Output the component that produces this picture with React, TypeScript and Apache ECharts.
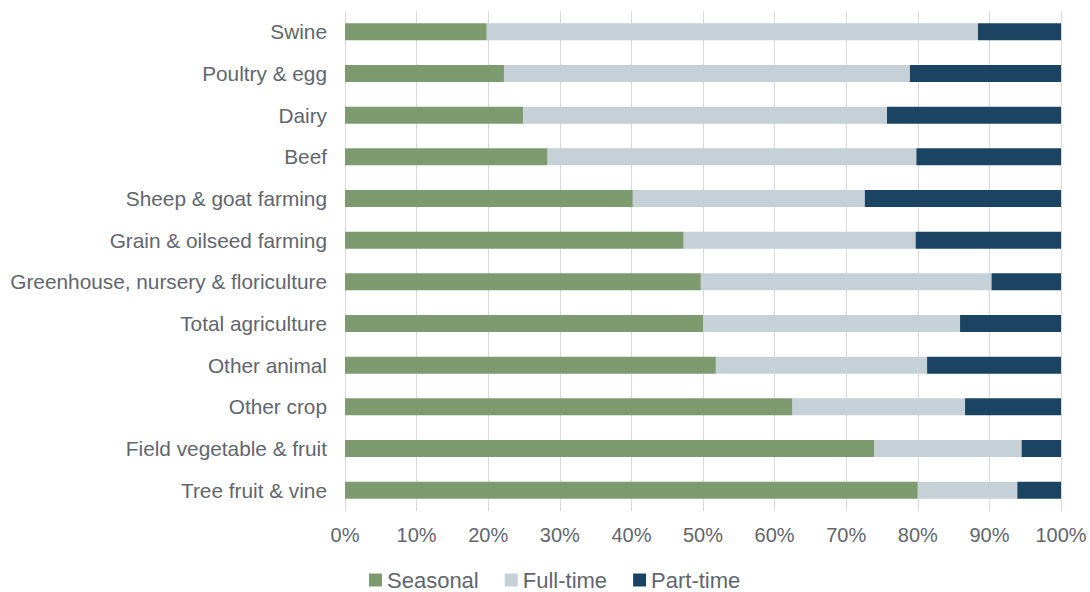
import React, { useEffect, useRef } from "react";
import * as echarts from "echarts";

const categories = [
  "Swine",
  "Poultry & egg",
  "Dairy",
  "Beef",
  "Sheep & goat farming",
  "Grain & oilseed farming",
  "Greenhouse, nursery & floriculture",
  "Total agriculture",
  "Other animal",
  "Other crop",
  "Field vegetable & fruit",
  "Tree fruit & vine",
];

const seasonal = [19.8, 22.2, 24.9, 28.3, 40.2, 47.3, 49.7, 50.0, 51.8, 62.5, 73.9, 80.0];
const fullTime = [68.6, 56.7, 50.8, 51.5, 32.4, 32.4, 40.6, 35.9, 29.5, 24.1, 20.6, 13.9];
const partTime = [11.6, 21.1, 24.3, 20.2, 27.4, 20.3, 9.7, 14.1, 18.7, 13.4, 5.5, 6.1];

const xTicks = [0, 10, 20, 30, 40, 50, 60, 70, 80, 90, 100];

const COLORS = {
  seasonal: "#7E9B70",
  fullTime: "#C6D0D7",
  partTime: "#1A4462",
};

export default function App() {
  const ref = useRef<HTMLDivElement>(null);

  useEffect(() => {
    if (!ref.current) return;
    const chart = echarts.init(ref.current, undefined, { renderer: "svg" });
    const font = "'Liberation Sans', Arial, sans-serif";
    const textColor = "#61666E";
    const mk = (name: string, data: number[], color: string) => ({
      name,
      type: "bar",
      stack: "total",
      data,
      barWidth: 17,
      itemStyle: { color },
      emphasis: { disabled: true },
    });
    chart.setOption({
      animation: false,
      textStyle: { fontFamily: font },
      grid: { left: 345, right: 29, top: 11, bottom: 81, containLabel: false },
      legend: {
        left: 364,
        top: 564,
        itemWidth: 13,
        itemHeight: 13,
        itemGap: 26,
        itemTextGap: 5,
        icon: "rect",
        textStyle: { fontSize: 22, lineHeight: 22, color: textColor, fontFamily: font },
        data: ["Seasonal", "Full-time", "Part-time"],
      },
      xAxis: {
        type: "value",
        min: xTicks[0],
        max: xTicks[xTicks.length - 1],
        interval: 10,
        axisLine: { show: false },
        axisTick: { show: false },
        splitLine: { show: true, lineStyle: { color: "#D9D9D9", width: 1 } },
        axisLabel: {
          formatter: (v: number) => `${v}%`,
          fontSize: 20,
          color: textColor,
          margin: 14,
          fontFamily: font,
        },
      },
      yAxis: {
        type: "category",
        data: categories,
        inverse: true,
        axisLine: { show: false },
        axisTick: { show: false },
        axisLabel: { fontSize: 20.8, color: textColor, margin: 18, fontFamily: font },
      },
      series: [
        mk("Seasonal", seasonal, COLORS.seasonal),
        mk("Full-time", fullTime, COLORS.fullTime),
        mk("Part-time", partTime, COLORS.partTime),
      ],
    });
    return () => chart.dispose();
  }, []);

  return <div ref={ref} style={{ width: 1090, height: 592, position: "absolute", left: 0, top: 0 }} />;
}
